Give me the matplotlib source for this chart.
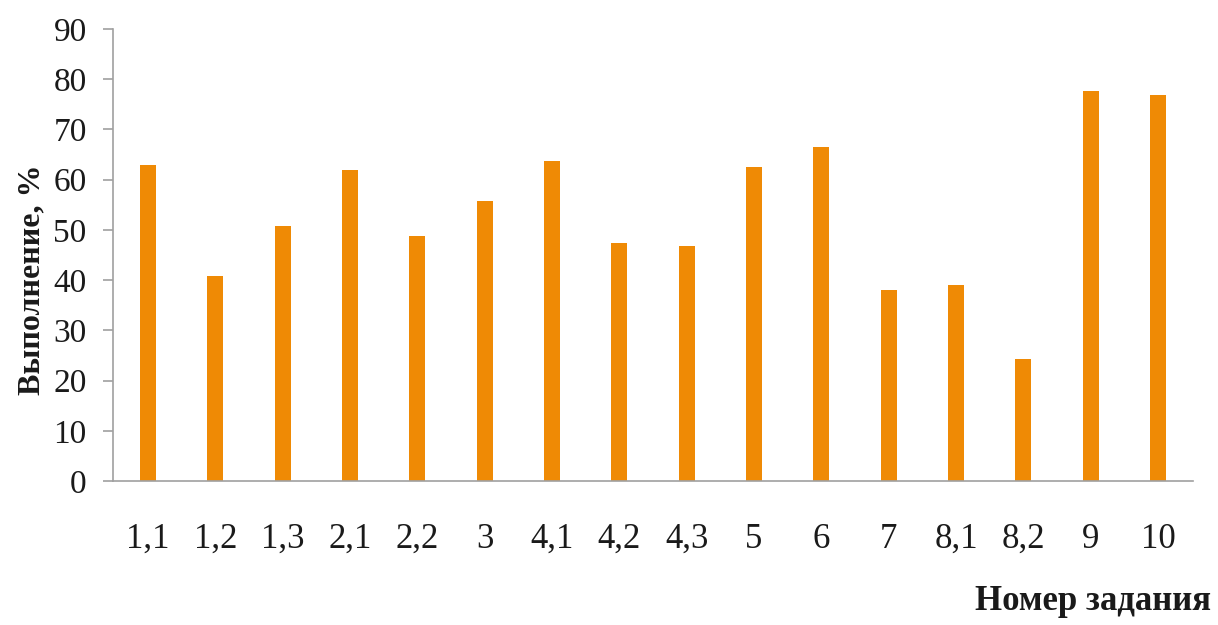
import matplotlib
matplotlib.use("Agg")
import matplotlib.pyplot as plt

categories = ["1,1", "1,2", "1,3", "2,1", "2,2", "3", "4,1", "4,2", "4,3",
              "5", "6", "7", "8,1", "8,2", "9", "10"]
values = [62.9, 40.8, 50.7, 62.0, 48.7, 55.8, 63.8, 47.3, 46.7,
          62.5, 66.5, 38.0, 39.0, 24.2, 77.6, 76.9]
yticks = [0, 10, 20, 30, 40, 50, 60, 70, 80, 90]

plt.rcParams['font.family'] = ['Liberation Serif', 'DejaVu Serif']

fig = plt.figure(figsize=(12.18, 6.25), dpi=100)
ax = fig.add_axes([0.0928, 0.2304, 0.8867, 0.7232])

x = list(range(len(categories)))
ax.bar(x, values, width=0.24, color='#ef8a05')

ax.set_xlim(-0.52, len(categories) - 0.48)
ax.set_ylim(0, 90)
ax.set_yticks(yticks)
ax.set_xticks(x)
ax.set_xticklabels(categories, fontsize=25, color='#1a1a1a')
ax.set_yticklabels([str(t) for t in yticks], fontsize=24, color='#1a1a1a')

for s in ['top', 'right']:
    ax.spines[s].set_visible(False)
ax.spines['left'].set_color('#a0a0a0')
ax.spines['bottom'].set_color('#a0a0a0')
ax.spines['left'].set_linewidth(1.2)
ax.spines['bottom'].set_linewidth(1.2)

ax.tick_params(axis='y', length=7, width=1.2, color='#a0a0a0', pad=12)
ax.tick_params(axis='x', length=0, pad=30)

fig.text(0.026, 0.552, 'Выполнение, %', rotation=90, ha='center', va='center',
         fontsize=23, fontweight='bold', color='#1a1a1a')
fig.text(0.994, 0.037, 'Номер задания', ha='right', va='center',
         fontsize=25, fontweight='bold', color='#1a1a1a')

fig.savefig('out.png', dpi=100)
